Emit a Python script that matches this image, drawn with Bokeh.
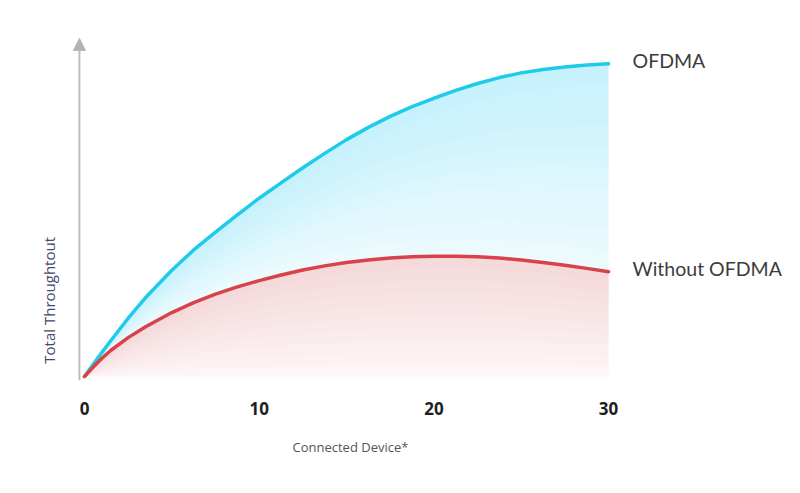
from math import pi
from bokeh.plotting import figure
from bokeh.models import Range1d, FixedTicker, Label, Arrow, NormalHead, Title
from bokeh.embed import file_html
from bokeh.resources import INLINE

# Data (arbitrary throughput units)
devices = [0, 0.5, 1, 1.5, 2.5, 3.5, 5, 6.25, 7.5, 8.75, 10, 11.25, 12.5, 13.75,
           15, 16.25, 17.5, 18.75, 20, 21.25, 22.5, 23.75, 25, 26.25, 27.5, 28.75, 30]
with_ofdma = [0, 3.9, 7.7, 11.4, 18.6, 25.2, 33.9, 40.4, 46.1, 51.6, 56.9, 61.8, 66.6, 71.2,
              75.6, 79.5, 83.0, 86.1, 88.8, 91.3, 93.5, 95.4, 96.9, 98.0, 98.8, 99.4, 99.8]
without_ofdma = [0, 3.0, 5.8, 8.3, 12.4, 15.9, 20.4, 23.6, 26.3, 28.6, 30.6, 32.4, 34.0, 35.3,
                 36.4, 37.2, 37.8, 38.2, 38.4, 38.4, 38.2, 37.8, 37.2, 36.4, 35.5, 34.5, 33.4]
x_ticks = [0, 10, 20, 30]
series_names = ["OFDMA", "Without OFDMA"]
x_title = "Connected Device*"
y_title = "Total Throughtout"

CYAN = "#1ecbe8"
RED = "#d9424a"
GREY = "#bdbdbd"

p = figure(width=800, height=493,
           x_range=Range1d(-4.808, 40.985), y_range=Range1d(-1.28, 120.0),
           output_backend="svg", toolbar_location=None,
           min_border_left=0, min_border_right=0,
           min_border_top=0, min_border_bottom=113)
p.outline_line_color = None
p.grid.visible = False
p.background_fill_color = "white"
p.border_fill_color = "white"

# gradient-like fill between the two curves (more saturated near the cyan line)
n = 10
p.varea(x=devices, y1=without_ofdma, y2=with_ofdma, fill_color=CYAN, fill_alpha=0.07)
for k in range(n):
    f = k / n
    lo = [r + f * (c - r) for r, c in zip(without_ofdma, with_ofdma)]
    p.varea(x=devices, y1=lo, y2=with_ofdma, fill_color=CYAN, fill_alpha=0.016)

# gradient-like fill below the red curve
p.varea(x=devices, y1=[0] * len(devices), y2=without_ofdma, fill_color=RED, fill_alpha=0.035)
for k in range(n):
    f = k / n
    lo = [f * r for r in without_ofdma]
    p.varea(x=devices, y1=lo, y2=without_ofdma, fill_color=RED, fill_alpha=0.014)

p.line(devices, with_ofdma, line_color=CYAN, line_width=3.5, line_cap="round", line_join="round")
p.line(devices, without_ofdma, line_color=RED, line_width=3.5, line_cap="round", line_join="round")

# axes
p.yaxis.visible = False
xa = p.xaxis[0]
xa.ticker = FixedTicker(ticks=x_ticks)
xa.axis_line_color = None
xa.major_tick_line_color = None
xa.minor_tick_line_color = None
xa.major_label_standoff = 15
xa.major_label_text_font = "Open Sans"
xa.major_label_text_font_style = "bold"
xa.major_label_text_font_size = "17px"
xa.major_label_text_color = "#1e1e1e"

p.add_layout(Title(text=x_title, align="left", offset=292, standoff=36,
                   text_font="Open Sans", text_font_style="normal",
                   text_font_size="13px", text_color="#555555"), "below")

# y axis arrow
p.add_layout(Arrow(end=NormalHead(size=12, fill_color="#b3b3b3", line_color="#b3b3b3"),
                   x_start=-0.29, y_start=-1.28, x_end=-0.29, y_end=107.9,
                   line_color=GREY, line_width=2))

p.add_layout(Label(x=-2.06, y=24.3, text=y_title, angle=pi / 2,
                   text_align="center", text_baseline="middle",
                   text_font="Open Sans", text_font_size="15px", text_color="#47476b"))

# series labels
ends_y = [with_ofdma[-1], without_ofdma[-1]]
for name, yv in zip(series_names, ends_y):
    p.add_layout(Label(x=31.37, y=yv, y_offset=3, text=name, text_baseline="middle",
                       text_font="Lato", text_font_size="19.5px", text_color="#3c3c3c"))

open("out.html", "w").write(file_html(p, INLINE))
